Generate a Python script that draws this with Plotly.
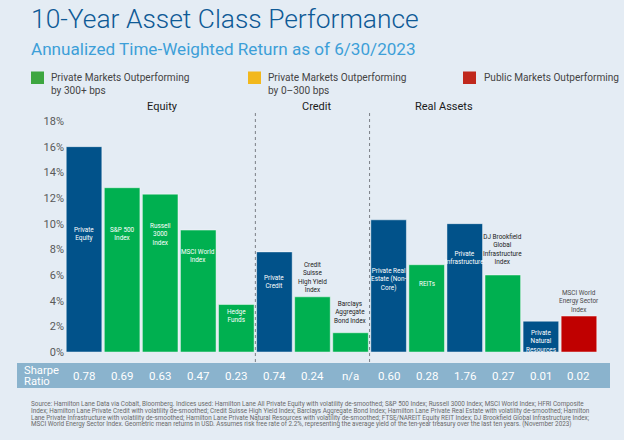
import plotly.graph_objects as go

# ---------------- data ----------------
categories = ["Private Equity", "S&P 500 Index", "Russell 3000 Index", "MSCI World Index",
              "Hedge Funds", "Private Credit", "Credit Suisse High Yield Index",
              "Barclays Aggregate Bond Index", "Private Real Estate (Non-Core)", "REITs",
              "Private Infrastructure", "DJ Brookfield Global Infrastructure Index",
              "Private Natural Resources", "MSCI World Energy Sector Index"]
returns_pct = [16.0, 12.8, 12.3, 9.5, 3.7, 7.8, 4.3, 1.5, 10.3, 6.8, 10.0, 6.0, 2.4, 2.8]
bar_type = ["private", "outperf300", "outperf300", "outperf300", "outperf300",
            "private", "outperf300", "outperf300", "private", "outperf300",
            "private", "outperf300", "private", "public"]
sharpe = ["0.78", "0.69", "0.63", "0.47", "0.23", "0.74", "0.24", "n/a",
          "0.60", "0.28", "1.76", "0.27", "0.01", "0.02"]
bar_labels = ["Private<br>Equity", "S&P 500<br>Index", "Russell<br>3000<br>Index",
              "MSCI World<br>Index", "Hedge<br>Funds", "Private<br>Credit",
              "Credit<br>Suisse<br>High Yield<br>Index", "Barclays<br>Aggregate<br>Bond Index",
              "Private Real<br>Estate (Non-<br>Core)", "REITs", "Private<br>Infrastructure",
              "DJ Brookfield<br>Global<br>Infrastructure<br>Index",
              "Private<br>Natural<br>Resources", "MSCI World<br>Energy Sector<br>Index"]
groups = ["Equity", "Credit", "Real Assets"]
y_ticks = [0, 2, 4, 6, 8, 10, 12, 14, 16, 18]
legend_items = ["Private Markets Outperforming<br>by 300+ bps",
                "Private Markets Outperforming<br>by 0\u2013300 bps",
                "Public Markets Outperforming"]
sharpe_title = ["Sharpe", "Ratio"]

# ---------------- styles ----------------
W, H = 624, 440
ML, MR, MT, MB = 65, 26, 121, 88
PW, PH = W - ML - MR, H - MT - MB
BG = "#E4ECF4"
colors = {"private": "#01528A", "outperf300": "#00B050", "public": "#C00000"}
legend_colors = ["#3DA640", "#F2B81C", "#C0281C"]
# per-bar label placement: pixel shift of label centre from bar top (negative = above)
label_shift = [87, 46, 40, 26, 11, 30, -19, -20, 60, 19, 34, -26, 20, -15]
label_inside = [True, True, True, True, True, True, False, False, True, True, True, False, True, False]
label_dark = ["#222222"] * 14
label_dark[13] = "#4a4a4a"
FONT = "Roboto"


def px(x):
    return (x - ML) / PW


def py(y):
    return (MT + PH - y) / PH


fig = go.Figure()
fig.add_trace(go.Bar(
    x=list(range(len(categories))), y=returns_pct,
    marker=dict(color=[colors[t] for t in bar_type],
                line=dict(color="rgba(255,255,255,0.45)", width=1)),
    hovertext=categories, hoverinfo="text+y", showlegend=False,
))

ann = []
# bar labels
for i, (v, lab) in enumerate(zip(returns_pct, bar_labels)):
    ann.append(dict(x=i, y=v, xref="x", yref="y", text=lab, showarrow=False,
                    yanchor="middle", yshift=-label_shift[i],
                    font=dict(family=FONT, size=6.4,
                              color="white" if label_inside[i] else label_dark[i])))

# sharpe band
shapes = [dict(type="rect", xref="paper", yref="paper", x0=px(17), x1=px(610),
               y0=py(388), y1=py(363), fillcolor="#8AB3CD", line=dict(width=0), layer="below")]
for i, s in enumerate(sharpe):
    ann.append(dict(x=i, y=py(375.5), xref="x", yref="paper", text=s, showarrow=False,
                    yanchor="middle", font=dict(family=FONT, size=11.5, color="white")))
for k, t in enumerate(sharpe_title):
    ann.append(dict(x=px(22), y=py(370 + 11.5 * k), xref="paper", yref="paper", text=t,
                    showarrow=False, xanchor="left", yanchor="middle", align="left",
                    font=dict(family=FONT, size=11.2, color="white")))

# group dividers
for xd in [4.5, 7.5]:
    shapes.append(dict(type="line", xref="x", yref="paper", x0=xd, x1=xd,
                       y0=py(362), y1=py(110), line=dict(color="#7a7f86", width=1, dash="dot")))
# group labels
for g, xc in zip(groups, [145, 316, 475]):
    ann.append(dict(x=px(xc), y=py(106), xref="paper", yref="paper", text=g, showarrow=False,
                    yanchor="middle", font=dict(family=FONT, size=11, color="#1a1a1a")))

# title & subtitle
ann.append(dict(x=px(29), y=py(18.5), xref="paper", yref="paper",
                text="10-Year Asset Class Performance", showarrow=False,
                xanchor="left", yanchor="middle",
                font=dict(family=FONT, size=26.4, color="#0E5A96", weight=300)))
ann.append(dict(x=px(29), y=py(49), xref="paper", yref="paper",
                text="Annualized Time-Weighted Return as of 6/30/2023", showarrow=False,
                xanchor="left", yanchor="middle",
                font=dict(family=FONT, size=17.1, color="#3D9FD8", weight=400)))

# legend
for lbl, col, (sx, tx) in zip(legend_items, legend_colors, [(31, 49), (248, 266), (463, 482)]):
    shapes.append(dict(type="rect", xref="paper", yref="paper", x0=px(sx), x1=px(sx + 13),
                       y0=py(84), y1=py(71.5), fillcolor=col, line=dict(width=0)))
    ann.append(dict(x=px(tx), y=py(70.5), xref="paper", yref="paper", text=lbl, showarrow=False,
                    xanchor="left", yanchor="top", align="left",
                    font=dict(family=FONT, size=10.1, color="#444444")))

# footnote
foot = [
    "Source: Hamilton Lane Data via Cobalt, Bloomberg. Indices used: Hamilton Lane All Private Equity with volatility de-smoothed; S&P 500 Index; Russell 3000 Index; MSCI World Index; HFRI Composite",
    "Index; Hamilton Lane Private Credit with volatility de-smoothed; Credit Suisse High Yield Index; Barclays Aggregate Bond Index; Hamilton Lane Private Real Estate with volatility de-smoothed; Hamilton",
    "Lane Private Infrastructure with volatility de-smoothed; Hamilton Lane Private Natural Resources with volatility de-smoothed; FTSE/NAREIT Equity REIT Index; DJ Brookfield Global Infrastructure Index;",
    "MSCI World Energy Sector Index. Geometric mean returns in USD. Assumes risk free rate of 2.2%, representing the average yield of the ten-year treasury over the last ten years. (November 2023)",
]
for k, line in enumerate(foot):
    ann.append(dict(x=px(29), y=py(404 + 6.8 * k), xref="paper", yref="paper", text=line,
                    showarrow=False, xanchor="left", yanchor="middle",
                    font=dict(family=FONT, size=6.35, color="#6a6a6a")))

fig.update_layout(
    width=W, height=H, margin=dict(l=ML, r=MR, t=MT, b=MB),
    paper_bgcolor=BG, plot_bgcolor=BG, bargap=0.065,
    annotations=ann, shapes=shapes, showlegend=False,
    xaxis=dict(range=[-0.5, len(categories) - 0.5], showticklabels=False, showgrid=False,
               zeroline=False, showline=False, fixedrange=True),
    yaxis=dict(range=[0, 18], tickvals=y_ticks, ticktext=[f"{t}%" for t in y_ticks],
               showgrid=False, zeroline=False, showline=False, ticks="",
               tickfont=dict(family=FONT, size=11, color="#595959"), fixedrange=True),
    font=dict(family=FONT),
)
fig.write_html("out.html", config={"displayModeBar": False},
               post_script="document.body.style.margin='0';document.body.style.background='" + BG + "';")
